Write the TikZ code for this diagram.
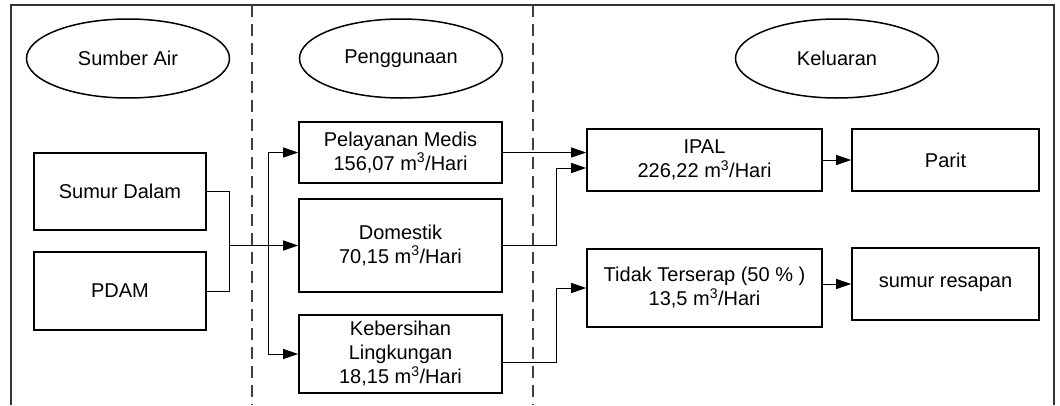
\documentclass[tikz,border=0pt]{standalone}
\usepackage{fontspec}
\setmainfont{Liberation Sans}
\usetikzlibrary{shapes.geometric,arrows.meta,calc}
\begin{document}
\begin{tikzpicture}[x=1pt,y=-1pt,
  every node/.style={font=\fontsize{20}{24}\selectfont, align=center, inner sep=0pt},
  box/.style={draw=black, line width=1.6pt, rectangle},
  head/.style={draw=black, line width=1.5pt, ellipse, minimum width=203pt, minimum height=79pt},
  frameline/.style={draw=black!80, line width=1.3pt},
  lane/.style={draw=black!75, line width=1.3pt, dash pattern=on 12pt off 7pt},
  link/.style={draw=black, line width=1pt},
  arr/.style={link, -{Triangle[length=15pt,width=10pt]}}
]
\useasboundingbox (0,0) rectangle (1060,405);

% outer frame (open at the bottom) and lane separators
\draw[frameline] (11,405) -- (11,5) -- (1054,5) -- (1054,405);
\draw[lane] (252,5) -- (252,405);
\draw[lane] (533,5) -- (533,405);

% lane headings
\node[head] (sumberair) at (128,58.5) {Sumber Air};
\node[head] (penggunaan) at (401,58.5) {Penggunaan};
\node[head] (keluaran) at (837,58.5) {Keluaran};

% water sources
\node[box, minimum width=172pt, minimum height=77pt] (sumur) at (120,191.5) {Sumur Dalam};
\node[box, minimum width=172pt, minimum height=78pt] (pdam) at (120,291) {PDAM};

% usage
\node[box, minimum width=203pt, minimum height=61pt] (medis) at (400.5,152.5)
  {Pelayanan Medis\\156,07 m\textsuperscript{3}/Hari};
\node[box, minimum width=203pt, minimum height=93pt] (domestik) at (400.5,245.5)
  {Domestik\\70,15 m\textsuperscript{3}/Hari};
\node[box, minimum width=203pt, minimum height=78pt] (kebersihan) at (400.5,354)
  {Kebersihan\\Lingkungan\\18,15 m\textsuperscript{3}/Hari};

% outputs
\node[box, minimum width=235pt, minimum height=62pt] (ipal) at (704.5,160)
  {IPAL\\226,22 m\textsuperscript{3}/Hari};
\node[box, minimum width=187pt, minimum height=62pt] (parit) at (945.5,160) {Parit};
\node[box, minimum width=235pt, minimum height=78pt] (tidak) at (704.5,288)
  {Tidak Terserap (50 \% )\\13,5 m\textsuperscript{3}/Hari};
\node[box, minimum width=187pt, minimum height=72pt] (resapan) at (945.5,284) {sumur resapan};

% sources merge and split into the three usages
\coordinate (merge) at (229,245.5);
\coordinate (split) at (268,245.5);
\draw[link] (sumur.east) -| (merge);
\draw[link] (pdam.east) -| (merge);
\draw[arr] (merge) -- (domestik.west);
\draw[arr] (split) |- (medis.west);
\draw[arr] (split) |- (kebersihan.west);

% usages to outputs
\coordinate (ipalB) at ([yshift=-8pt]ipal.west);
\coordinate (kebOut) at ([yshift=-8pt]kebersihan.east);
\draw[arr] (medis.east) -- (medis.east -| ipal.west);
\draw[arr] (domestik.east) -- ++(54,0) |- (ipalB);
\draw[arr] (kebOut) -- ++(54,0) |- (tidak.west);

% outputs to disposal
\draw[arr] (ipal.east) -- (parit.west);
\draw[arr] (tidak.east |- resapan.west) -- (resapan.west);
\end{tikzpicture}
\end{document}
